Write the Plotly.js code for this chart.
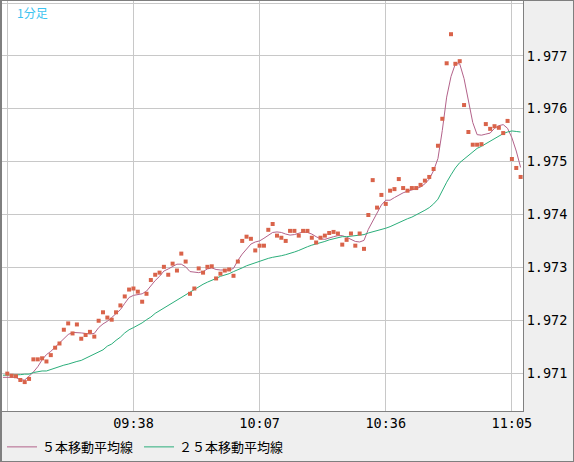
<!DOCTYPE html>
<html>
<head>
<meta charset="utf-8">
<script src="https://cdn.plot.ly/plotly-3.0.1.min.js"></script>
<style>
html,body{margin:0;padding:0;background:#efefef;}
#wrap{position:relative;width:574px;height:462px;}
#chart{width:574px;height:462px;}
#frame{position:absolute;left:0;top:0;width:574px;height:462px;box-sizing:border-box;border:1px solid #7f7f7f;border-left:2px solid #7f7f7f;pointer-events:none;}
</style>
</head>
<body>
<div id="wrap"><div id="chart"></div><div id="frame"></div></div>
<script>
// ---- data ----
var chartTitle = "1分足";
var seriesNames = ["５本移動平均線", "２５本移動平均線"];
var day = "2024-01-01";
var closeStart = "09:09";   // first plotted price point
var maStart = "09:08";      // moving averages start one bar earlier (left edge)

var closes = [
1.97099,1.97095,1.97094,1.97087,1.97083,1.97089,1.97126,1.97126,1.97128,1.97122,
1.97134,1.97148,1.97156,1.97182,1.97194,1.97175,1.97192,1.97165,1.97172,1.97178,
1.97169,1.97199,1.97215,1.97205,1.97201,1.97215,1.97228,1.97245,1.97258,1.97260,
1.97254,1.97235,1.97250,1.97276,1.97286,1.97290,1.97301,1.97286,1.97307,1.97294,
1.97326,1.97311,1.97250,1.97260,1.97298,1.97290,1.97301,1.97302,1.97279,1.97288,
1.97294,1.97296,1.97284,1.97311,1.97350,1.97358,1.97354,1.97332,1.97341,1.97341,
1.97371,1.97382,1.97360,1.97356,1.97350,1.97369,1.97369,1.97360,1.97369,1.97369,
1.97356,1.97347,1.97356,1.97360,1.97365,1.97367,1.97364,1.97343,1.97352,1.97364,
1.97341,1.97364,1.97335,1.97399,1.97465,1.97413,1.97437,1.97420,1.97445,1.97448,
1.97467,1.97450,1.97445,1.97450,1.97450,1.97456,1.97464,1.97471,1.97486,1.97530,
1.97581,1.97686,1.97741,1.97685,1.97690,1.97607,1.97556,1.97532,1.97532,1.97533,
1.97571,1.97562,1.97567,1.97564,1.97554,1.97577,1.97505,1.97488,1.97471];

var ma5 = [
1.97092,1.97092,1.97092,1.97092,1.97087,1.97087,1.97094,1.97102,1.97112,1.97125,
1.97135,1.97141,1.97149,1.97157,1.97166,1.97173,1.97177,1.97177,1.97176,1.97175,
1.97174,1.97175,1.97186,1.97193,1.97198,1.97205,1.97213,1.97220,1.97232,1.97243,
1.97247,1.97248,1.97250,1.97255,1.97266,1.97275,1.97283,1.97293,1.97297,1.97301,
1.97306,1.97306,1.97301,1.97292,1.97291,1.97290,1.97292,1.97297,1.97299,1.97296,
1.97295,1.97295,1.97295,1.97298,1.97313,1.97325,1.97334,1.97344,1.97348,1.97350,
1.97355,1.97361,1.97366,1.97367,1.97366,1.97363,1.97361,1.97362,1.97365,1.97367,
1.97366,1.97363,1.97358,1.97354,1.97353,1.97356,1.97358,1.97360,1.97360,1.97357,
1.97353,1.97349,1.97348,1.97351,1.97372,1.97388,1.97403,1.97418,1.97427,1.97427,
1.97432,1.97437,1.97441,1.97444,1.97446,1.97449,1.97452,1.97458,1.97467,1.97483,
1.97506,1.97559,1.97622,1.97661,1.97685,1.97685,1.97657,1.97617,1.97574,1.97551,
1.97550,1.97552,1.97554,1.97563,1.97568,1.97570,1.97563,1.97545,1.97520,1.97489];

var ma25 = [
1.97096,1.97096,1.97096,1.97097,1.97097,1.97098,1.97098,1.97101,1.97103,1.97104,
1.97104,1.97107,1.97110,1.97112,1.97115,1.97117,1.97120,1.97122,1.97124,1.97128,
1.97133,1.97137,1.97141,1.97144,1.97151,1.97155,1.97162,1.97168,1.97176,1.97182,
1.97186,1.97190,1.97195,1.97201,1.97206,1.97213,1.97218,1.97223,1.97228,1.97233,
1.97238,1.97244,1.97249,1.97254,1.97258,1.97264,1.97268,1.97272,1.97275,1.97279,
1.97283,1.97285,1.97288,1.97292,1.97295,1.97299,1.97303,1.97306,1.97308,1.97311,
1.97314,1.97317,1.97319,1.97320,1.97322,1.97324,1.97326,1.97329,1.97332,1.97336,
1.97339,1.97342,1.97344,1.97346,1.97349,1.97352,1.97354,1.97357,1.97358,1.97358,
1.97359,1.97359,1.97360,1.97362,1.97365,1.97367,1.97370,1.97372,1.97374,1.97377,
1.97381,1.97384,1.97388,1.97392,1.97395,1.97399,1.97403,1.97408,1.97413,1.97420,
1.97429,1.97446,1.97461,1.97475,1.97488,1.97498,1.97505,1.97512,1.97519,1.97525,
1.97529,1.97534,1.97538,1.97544,1.97548,1.97553,1.97556,1.97558,1.97557,1.97556];

var xTickTimes = ["09:09", "09:38", "10:07", "10:36", "11:05"];
var xTickLabels = ["", "09:38", "10:07", "10:36", "11:05"];
var yTickValues = [1.971, 1.972, 1.973, 1.974, 1.975, 1.976, 1.977, 1.978];
var yTickLabels = ["1.971", "1.972", "1.973", "1.974", "1.975", "1.976", "1.977", ""];
var xRange = ["09:07:47", "11:07:33"];
var yRange = [1.970283, 1.978038];

// ---- helpers ----
function minuteSeq(start, n) {
  var p = start.split(":");
  var base = parseInt(p[0], 10) * 60 + parseInt(p[1], 10);
  var out = [];
  for (var k = 0; k < n; k++) {
    var m = base + k;
    var hh = Math.floor(m / 60), mm = m % 60;
    out.push(day + " " + (hh < 10 ? "0" : "") + hh + ":" + (mm < 10 ? "0" : "") + mm + ":00");
  }
  return out;
}
function stamp(t) { return day + " " + t; }

var xClose = minuteSeq(closeStart, closes.length);
var xMa = minuteSeq(maStart, ma5.length);

var traces = [
  { x: xMa, y: ma5, type: "scatter", mode: "lines", name: seriesNames[0], legend: "legend",
    line: { color: "#b3628a", width: 1 }, hoverinfo: "skip" },
  { x: xMa, y: ma25, type: "scatter", mode: "lines", name: seriesNames[1], legend: "legend2",
    line: { color: "#2aae7a", width: 1 }, hoverinfo: "skip" },
  { x: xClose, y: closes, type: "scatter", mode: "markers", showlegend: false,
    marker: { symbol: "square", size: 4, color: "#d9634a", line: { width: 0 } }, hoverinfo: "skip" }
];

var axisFont = { family: "DejaVu Sans Mono, monospace", size: 13.5, color: "#000000" };
var legendFont = { family: "Noto Sans CJK JP", size: 13, color: "#000000" };

var layout = {
  width: 574, height: 462,
  margin: { l: 2, r: 51, t: 1, b: 50, pad: 0 },
  paper_bgcolor: "#efefef",
  plot_bgcolor: "#ffffff",
  showlegend: true,
  legend: {
    orientation: "h", x: 0.0, xanchor: "left", y: -0.085, yanchor: "middle",
    font: legendFont, bgcolor: "rgba(0,0,0,0)", borderwidth: 0, itemwidth: 30
  },
  legend2: {
    orientation: "h", x: 0.263, xanchor: "left", y: -0.085, yanchor: "middle",
    font: legendFont, bgcolor: "rgba(0,0,0,0)", borderwidth: 0, itemwidth: 30
  },
  xaxis: {
    type: "date",
    range: xRange.map(stamp),
    tickvals: xTickTimes.map(stamp),
    ticktext: xTickLabels,
    tickmode: "array",
    showgrid: true, gridcolor: "#c8c8c8", gridwidth: 1,
    showline: true, mirror: true, linecolor: "#808080", linewidth: 1,
    ticks: "", zeroline: false, tickfont: axisFont, fixedrange: true
  },
  yaxis: {
    side: "right",
    range: yRange,
    tickmode: "array",
    tickvals: yTickValues,
    ticktext: yTickLabels,
    showgrid: true, gridcolor: "#c8c8c8", gridwidth: 1,
    showline: true, mirror: true, linecolor: "#808080", linewidth: 1,
    ticks: "", zeroline: false, tickfont: axisFont, fixedrange: true
  },
  annotations: [{
    text: chartTitle, xref: "paper", yref: "paper", x: 0.024, y: 1,
    xanchor: "left", yanchor: "top", yshift: -1, showarrow: false,
    font: { family: "Noto Sans CJK JP", size: 12, color: "#3cc3f0" }
  }]
};

Plotly.newPlot("chart", traces, layout, { staticPlot: true, displayModeBar: false });
</script>
</body>
</html>
